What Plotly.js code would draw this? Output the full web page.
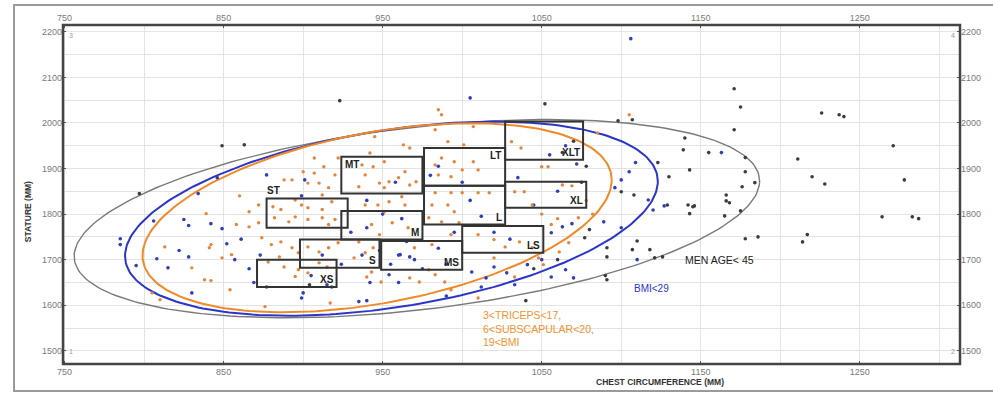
<!DOCTYPE html>
<html><head><meta charset="utf-8">
<script src="https://cdn.plot.ly/plotly-3.0.1.min.js"></script>
<style>html,body{margin:0;padding:0;background:#fff}#chart{width:993px;height:396px}</style>
</head><body><div id="chart"></div>
<script>
// ---------- data ----------
const xTickVals = [750, 850, 950, 1050, 1150, 1250];
const yTickVals = [1500, 1600, 1700, 1800, 1900, 2000, 2100, 2200];

// size boxes: chest circumference (mm) x stature (mm)
const sizeLabels = ['XS', 'S', 'MS', 'LS', 'M', 'ST', 'MT', 'LT', 'L', 'XLT', 'XL'];
const chestMin   = [871, 898, 949, 1000, 924, 877, 924, 976, 976, 1027, 1027];
const chestMax   = [921, 948, 1000, 1051, 975, 928, 975, 1027, 1027, 1076, 1078];
const statMin    = [1640, 1682, 1678, 1715, 1744, 1770, 1845, 1862, 1777, 1919, 1814];
const statMax    = [1700, 1744, 1741, 1774, 1807, 1834, 1926, 1945, 1862, 2003, 1871];

// ellipses (centre, half-widths, correlation)
const ellNames = ['MEN AGE< 45', 'BMI<29', 'TRICEPS/SUBSCAPULAR/BMI'];
const ellCx = [971.5, 955.5, 946.5];
const ellCy = [1790, 1790, 1792];
const ellSx = [215.5, 167.5, 147.5];
const ellSy = [217.5, 213, 207.5];
const ellR  = [0.38, 0.385, 0.40];

const darkPoints = [
[1171,2075],[1175,2035],[1171,1985],[1226,2022],[1237,2018],[1240,2014],[1271,1950],[1211,1921],[1220,1882],[1228,1866],[1278,1875],[1264,1794],[1283,1794],[1287,1790],[1178,1746],[1186,1750],[1214,1739],[1217,1755],
[1140,1967],[1139,1941],[1155,1935],[1178,1924],[1178,1893],[1184,1869],[1176,1860],[1143,1897],[1130,1882],[1166,1842],[1143,1801],[1146,1818],[1165,1796],[1175,1807],[1166,1829],[1168,1825],
[1098,2005],[1107,2007],[1123,1913],[1100,1849],[1108,1842],[1129,1820],[1142,1820],[1145,1816],[1080,1766],[1077,1748],[1091,1726],[1091,1706],[1107,1722],[1110,1741],[1118,1722],[1121,1704],[1126,1706],[1091,1656],
[849,1950],[863,1952],[797,1845],[1052,2042],[923,2049],
[1070,1960],[1063,1935],[1078,1905],[1075,1870],[1060,1700],[1045,1680],[904,1645],[1090,1665],[1040,1610]
];
const bluePoints = [
[785,1746],[785,1733],[795,1687],[806,1785],[808,1702],[815,1682],[825,1788],[828,1775],[822,1720],[828,1706],[830,1627],[842,1779],[849,1768],[846,1880],[834,1845],[877,1886],[899,1840],[901,1875],[852,1735],[857,1700],[861,1745],[866,1680],[869,1650],[873,1710],[877,1640],[899,1616],[900,1627],[905,1665],[912,1710],[915,1645],[924,1690],[930,1760],[937,1710],[942,1650],[948,1720],[955,1690],[960,1710],[965,1740],[970,1700],[975,1680],[985,1725],[990,1690],[995,1760],[962,1790],[950,1800],[940,1830],[958,1870],[980,1885],[985,1905],[1000,1870],[1005,1830],[1012,1795],[1020,1760],[1030,1745],[1050,1700],[1070,1660],[1089,1783],[1100,1770],[1100,1875],[1096,1858],[1105,1893],[1109,1913],[1117,1831],[1120,1809],[1127,1818],[1163,1935],[1055,1930],[1065,1950],[1072,1910],[1060,1850],[1045,1820],[1035,1880],[1015,1660],[990,1620],[960,1650],[940,1610],[1106,2185],[1005,2055],[918,1640],[1110,1700],
[940,1770],[961,1711],[967,1706],[954,1667],[935,1608],[1006,1673],[1012,1640],[1028,1671],[1020,1684],[1033,1645],[1056,1662],[1065,1678],[1063,1772],[1069,1779],[1056,1759],[1041,1689]
];
const orangePoints = [
[985,2029],[987,2018],[907,1923],[913,1904],[888,1875],[893,1875],[920,1886],[860,1840],[872,1820],[866,1805],[881,1816],[903,1868],[910,1868],[916,1858],[912,1842],[918,1827],[899,1820],[895,1831],[903,1814],[912,1810],[886,1810],[922,1923],[907,1890],[900,1893],
[945,1970],[963,1952],[967,1945],[983,1985],[991,1959],[1007,1992],[1001,1952],[1037,1945],[1031,1959],[942,1934],[937,1908],[944,1904],[951,1915],[939,1886],[948,1868],[954,1871],[960,1880],[964,1893],[967,1864],[971,1871],[951,1858],[935,1860],[983,1908],[987,1923],[995,1915],[1000,1897],[1007,1915],[1010,1897],[993,1882],[985,1886],[1039,1849],[1050,1904],[1054,1904],[1063,1864],[1033,1849],[1044,1820],[983,1847],[993,1847],[1000,1847],[1010,1847],[1017,1847],[981,1820],[991,1820],[995,1805],[962,1838],[964,1820],[954,1827],[947,1820],[939,1820],[951,1805],
[882,1792],[891,1783],[895,1794],[903,1788],[912,1792],[916,1777],[920,1788],[866,1772],[872,1781],[874,1748],[880,1733],[886,1739],[893,1726],[897,1715],[903,1728],[910,1717],[916,1726],[922,1737],[885,1706],[878,1695],[888,1684],[897,1678],[895,1663],[903,1671],[910,1693],[915,1684],[855,1711],[849,1704],[858,1777],[842,1733],[841,1726],[830,1682],[838,1656],[813,1728],[876,1597],[917,1605],[854,1634],[805,1627],[810,1612],[839,1801],[842,1654],
[943,1777],[956,1781],[966,1770],[948,1755],[935,1739],[944,1726],[939,1715],[932,1704],[940,1662],[943,1673],[949,1651],[967,1660],[973,1651],[983,1667],[979,1678],[989,1651],[970,1726],[981,1733],[993,1755],[998,1781],[987,1783],[979,1792],[1010,1755],[1020,1744],[1027,1728],[1036,1739],[1044,1726],[1020,1704],[1048,1704],[1051,1689],[1061,1717],[1067,1737],[1056,1777],[1073,1792],[1033,1662],[993,1634],[1010,1616],
[1085,1978],[1105,2018],[1069,1862],[1078,1830],[1082,1800],[1060,1790],[1050,1800]
];

// ---------- build ----------
const ellColors = ['#7a7a7a', '#2a36c8', '#f08a28'];
const ellWidths = [1.4, 2, 2];
const traces = [];
for (let i = 0; i < ellCx.length; i++) {
  const xs = [], ys = [];
  const n = 240, s = Math.sqrt(1 - ellR[i] * ellR[i]);
  for (let k = 0; k <= n; k++) {
    const t = 2 * Math.PI * k / n;
    xs.push(ellCx[i] + ellSx[i] * Math.cos(t));
    ys.push(ellCy[i] + ellSy[i] * (ellR[i] * Math.cos(t) + s * Math.sin(t)));
  }
  traces.push({type: 'scatter', mode: 'lines', x: xs, y: ys, name: ellNames[i],
    line: {color: ellColors[i], width: ellWidths[i]}, hoverinfo: 'skip'});
}
function pts(arr, color, size) {
  return {type: 'scatter', mode: 'markers', x: arr.map(p => p[0]), y: arr.map(p => p[1]),
    marker: {color: color, size: size}, hoverinfo: 'skip'};
}
traces.push(pts(darkPoints, '#3a3a44', 3.6));
traces.push(pts(bluePoints, '#2f3fb8', 3.6));
traces.push(pts(orangePoints, '#e5843c', 3.4));
// invisible trace to activate the mirrored top/right axes
traces.push({type: 'scatter', mode: 'markers', x: [1000], y: [1800], xaxis: 'x2', yaxis: 'y2',
  marker: {opacity: 0}, hoverinfo: 'skip'});

const xr = [749, 1313], yr = [1471, 2215];
const tickFont = {family: 'Liberation Sans, Arial, sans-serif', size: 9, color: '#7a7a7a'};
const gridC = '#e3e3e3';
const xBase = {range: xr, tickmode: 'array', tickvals: xTickVals, ticks: 'inside', ticklen: 3,
  tickcolor: '#555', tickfont: tickFont, zeroline: false, showline: false, fixedrange: true};
const yBase = {range: yr, tickmode: 'array', tickvals: yTickVals, ticks: 'inside', ticklen: 3,
  tickcolor: '#555', tickfont: tickFont, zeroline: false, showline: false, fixedrange: true};

// label placement: corner of box
const labelCorner = {XS:'br', S:'br', MS:'br', LS:'br', M:'br', ST:'above', MT:'tl', LT:'tr', L:'br', XLT:'br', XL:'br'};
const shapes = [];
const annotations = [];
for (let i = 0; i < sizeLabels.length; i++) {
  shapes.push({type: 'rect', xref: 'x', yref: 'y', x0: chestMin[i], x1: chestMax[i], y0: statMin[i], y1: statMax[i],
    line: {color: '#333', width: 2}});
  const c = labelCorner[sizeLabels[i]];
  const a = {text: '<b>' + sizeLabels[i] + '</b>', xref: 'x', yref: 'y', showarrow: false,
    font: {family: 'Liberation Sans, Arial, sans-serif', size: 10, color: '#222'}};
  if (c === 'br') Object.assign(a, {x: chestMax[i], y: statMin[i], xanchor: 'right', yanchor: 'bottom', xshift: -1, yshift: 0});
  if (c === 'tl') Object.assign(a, {x: chestMin[i], y: statMax[i], xanchor: 'left', yanchor: 'top', xshift: 2, yshift: 0});
  if (c === 'tr') Object.assign(a, {x: chestMax[i], y: statMax[i], xanchor: 'right', yanchor: 'top', xshift: -2, yshift: 0});
  if (c === 'above') Object.assign(a, {x: chestMin[i], y: statMax[i], xanchor: 'left', yanchor: 'bottom', xshift: -2, yshift: 1});
  annotations.push(a);
}
// plot frame
shapes.push({type: 'rect', xref: 'paper', yref: 'paper', x0: 0, x1: 1, y0: 0, y1: 1, line: {color: '#444', width: 2.5}, layer: 'above'});
// outer border
shapes.push({type: 'rect', xref: 'paper', yref: 'paper', x0: -0.0546, x1: 1.06, y0: -0.0796, y1: 1.059, line: {color: '#9a9a9a', width: 2}});

const fTxt = 'Liberation Sans, Arial, sans-serif';
annotations.push(
  {text: 'MEN AGE&lt; 45', x: 1139, y: 1700, xref: 'x', yref: 'y', xanchor: 'left', yanchor: 'middle', showarrow: false,
   font: {family: fTxt, size: 10.5, color: '#222'}},
  {text: 'BMI&lt;29', x: 1107, y: 1636, xref: 'x', yref: 'y', xanchor: 'left', yanchor: 'middle', showarrow: false,
   font: {family: fTxt, size: 10, color: '#2a36c8'}},
  {text: '3&lt;TRICEPS&lt;17,<br>6&lt;SUBSCAPULAR&lt;20,<br>19&lt;BMI', x: 1012, y: 1597, xref: 'x', yref: 'y', xanchor: 'left', yanchor: 'top',
   align: 'left', showarrow: false, font: {family: fTxt, size: 10.5, color: '#f0932e'}},
  {text: '<b>STATURE (MM)</b>', x: -0.046, y: 0.45, xref: 'paper', yref: 'paper', textangle: -90, showarrow: false,
   font: {family: fTxt, size: 8.5, color: '#333'}},
  {text: '<b>CHEST CIRCUMFERENCE (MM)</b>', x: 0.665, y: -0.074, xref: 'paper', yref: 'paper', showarrow: false,
   font: {family: fTxt, size: 8.5, color: '#333'}},
  {text: '3', x: 0.004, y: 0.985, xref: 'paper', yref: 'paper', xanchor: 'left', showarrow: false, font: {family: fTxt, size: 7, color: '#999'}},
  {text: '1', x: 0.004, y: 0.02, xref: 'paper', yref: 'paper', xanchor: 'left', showarrow: false, font: {family: fTxt, size: 7, color: '#999'}},
  {text: '4', x: 0.997, y: 0.985, xref: 'paper', yref: 'paper', xanchor: 'right', showarrow: false, font: {family: fTxt, size: 7, color: '#999'}},
  {text: '2', x: 0.997, y: 0.02, xref: 'paper', yref: 'paper', xanchor: 'right', showarrow: false, font: {family: fTxt, size: 7, color: '#999'}}
);

const layout = {
  width: 993, height: 396,
  margin: {l: 63, r: 33, t: 25, b: 32, pad: 0},
  paper_bgcolor: '#fff', plot_bgcolor: '#fff',
  showlegend: false,
  xaxis: Object.assign({}, xBase, {side: 'bottom', showgrid: true, gridcolor: gridC, ticklabelstandoff: 1,
    minor: {tick0: 750, dtick: 50, showgrid: true, gridcolor: gridC, ticks: ''}}),
  yaxis: Object.assign({}, yBase, {side: 'left', showgrid: true, gridcolor: gridC,
    minor: {tick0: 1500, dtick: 50, showgrid: true, gridcolor: gridC, ticks: ''}}),
  xaxis2: Object.assign({}, xBase, {overlaying: 'x', side: 'top', showgrid: false, ticklabelstandoff: 1}),
  yaxis2: Object.assign({}, yBase, {overlaying: 'y', side: 'right', showgrid: false}),
  shapes: shapes,
  annotations: annotations
};
Plotly.newPlot('chart', traces, layout, {staticPlot: true, displayModeBar: false});
</script>
</body></html>
